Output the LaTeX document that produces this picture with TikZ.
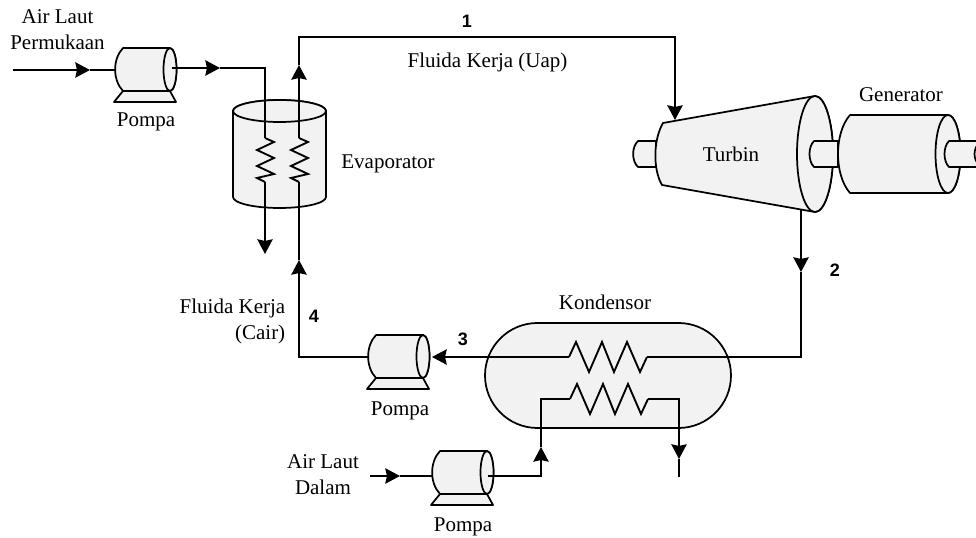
\documentclass[tikz,border=0pt]{standalone}
\usepackage{xcolor}
\usepackage{fontspec}
\setmainfont{Liberation Serif}
\newfontfamily\numfont{Liberation Sans}
\usetikzlibrary{arrows.meta, positioning}
\definecolor{unitfill}{HTML}{F2F2F2}

\tikzset{
    lbl/.style={font=\fontsize{15.75}{19.5}\selectfont, align=center, inner sep=0pt},
    num/.style={font=\numfont\bfseries\fontsize{13.5}{16}\selectfont, inner sep=0pt},
    unit/.style={draw, line width=1.3pt, fill=unitfill, line join=round},
    flow/.style={draw, line width=1.4pt, line join=miter},
    tip/.style={-{Stealth[length=11pt, width=11.5pt, inset=1.2pt]}},
    pics/pompa/.style={code={
        \path[unit] (8,43) -- (55,43) -- (61,54) -- (-1,54) -- cycle;
        \path[unit] (8,0) -- (55,0) arc[start angle=90, end angle=-90, x radius=6.5, y radius=-21.5] -- (8,43)
            .. controls (-2.5,32) and (-2.5,11) .. cycle;
        \draw[unit] (55,21.5) ellipse[x radius=6.5, y radius=21.5];
    }},
    pics/coilv/.style={code={
        \draw[line width=1.4pt] (0,0) -- (9,4) -- (-8,12) -- (9,20) -- (-8,28) -- (9,36) -- (-8,40) -- (0,44);
    }},
    pics/coilh/.style={code={
        \draw[line width=1.4pt] (0,0) -- (7,-15) -- (20,15) -- (33,-15) -- (45,15) -- (58,-15) -- (71,15) -- (78,0);
    }},
}

\begin{document}
\begin{tikzpicture}[x=0.75pt, y=-0.75pt]
    \useasboundingbox (0,0) rectangle (976,538);

    % connection points
    \coordinate (p1in)  at (115,70);
    \coordinate (p1out) at (172,68);
    \coordinate (p3out) at (368,357);
    \coordinate (p3tip) at (432,357);
    \coordinate (p4in)  at (432,476);
    \coordinate (p4out) at (488,476);
    \coordinate (seaA)  at (13,70);
    \coordinate (seaAt) at (90,70);
    \coordinate (seaB)  at (220,68);
    \coordinate (seaC)  at (265,68);
    \coordinate (seaD)  at (265,138);
    \coordinate (seaE)  at (265,182);
    \coordinate (seaF)  at (265,254);
    \coordinate (wfA)   at (299,357);
    \coordinate (wfB)   at (299,260);
    \coordinate (wfC)   at (299,182);
    \coordinate (wfD)   at (299,138);
    \coordinate (wfE)   at (299,65);
    \coordinate (wfF)   at (299,37);
    \coordinate (wfG)   at (675,37);
    \coordinate (wfH)   at (675,120);
    \coordinate (wfI)   at (801,209);
    \coordinate (wfJ)   at (801,272);
    \coordinate (wfK)   at (801,357);
    \coordinate (kuL)   at (569,357);
    \coordinate (kuR)   at (647,357);
    \coordinate (klL)   at (570,399);
    \coordinate (klR)   at (648,399);
    \coordinate (deepA) at (370,476);
    \coordinate (deepB) at (400,476);
    \coordinate (deepC) at (541,476);
    \coordinate (deepD) at (541,447);
    \coordinate (deepE) at (541,399);
    \coordinate (deepF) at (679,399);
    \coordinate (deepG) at (679,459);
    \coordinate (deepH) at (679,477);

    % evaporator
    \path[unit] (233,111) -- (233,197) arc[start angle=180, end angle=360, x radius=46.5, y radius=-11]
        -- (326,111) arc[start angle=0, end angle=180, x radius=46.5, y radius=-11];
    \draw[unit] (279.5,111) ellipse[x radius=46.5, y radius=11];

    % turbine and generator
    \path[unit] (656,141) -- (638,141) .. controls (631.5,147) and (631.5,161) .. (638,167) -- (656,167) -- cycle;
    \path[unit] (663,123) -- (815,96) arc[start angle=90, end angle=-90, x radius=18, y radius=-58]
        -- (662,185) .. controls (653,170) and (653,140) .. cycle;
    \draw[unit] (815,154) ellipse[x radius=18, y radius=58];
    \path[unit] (838,141) -- (814,141) .. controls (808,147) and (808,161) .. (814,167) -- (838,167) -- cycle;
    \path[unit] (850,115) -- (948,115) arc[start angle=90, end angle=-90, x radius=12.5, y radius=-39]
        -- (850,193) .. controls (834,175) and (834,133) .. cycle;
    \draw[unit] (948,154) ellipse[x radius=12.5, y radius=39];
    \path[unit] (985,141) -- (949,141) .. controls (943,147) and (943,161) .. (949,167) -- (985,167);
    \draw[line width=1.3pt] (979,143) .. controls (973,149) and (973,159) .. (979,165);

    % condenser
    \node[unit, rounded corners=52.5*0.75pt, minimum width=246*0.75pt, minimum height=105*0.75pt,
        inner sep=0pt] (kondensor) at (608,375.5) {};

    % pumps
    \pic (p1) at (115,48)  {pompa};
    \pic (p3) at (368,335) {pompa};
    \pic (p4) at (432,451) {pompa};

    % coils
    \pic at (seaD) {coilv};
    \pic at (wfD)  {coilv};
    \pic at (kuL)  {coilh};
    \pic at (klL)  {coilh};

    % surface seawater
    \draw[flow, tip] (seaA) -- (seaAt);
    \draw[flow] (seaAt) -- (p1in);
    \draw[flow, tip] (p1out) -- (seaB);
    \draw[flow] (seaB) -- (seaC) -- (seaD);
    \draw[flow, tip] (seaE) -- (seaF);

    % working fluid
    \draw[flow, tip] (p3out) -- (wfA) -- (wfB);
    \draw[flow] (wfB) -- (wfC);
    \draw[flow, tip] (wfD) -- (wfE);
    \draw[flow, tip] (wfE) -- (wfF) -- (wfG) -- (wfH);
    \draw[flow, tip] (wfI) -- (wfJ);
    \draw[flow] (wfJ) -- (wfK) -- (kuR);
    \draw[flow, tip] (kuL) -- (p3tip);

    % deep seawater
    \draw[flow, tip] (deepA) -- (deepB);
    \draw[flow] (deepB) -- (p4in);
    \draw[flow, tip] (p4out) -- (deepC) -- (deepD);
    \draw[flow] (deepD) -- (deepE) -- (klL);
    \draw[flow, tip] (klR) -- (deepF) -- (deepG);
    \draw[flow] (deepG) -- (deepH);

    % labels
    \node[lbl] (tAirA)   at (57.5,30)  {Air Laut\\Permukaan};
    \node[lbl] (tPompaA) at (146,122)  {Pompa};
    \node[lbl] (tEvap)   at (388,164)  {Evaporator};
    \node[lbl] (tUap)    at (487.5,62) {Fluida Kerja (Uap)};
    \node[lbl] (tTurbin) at (731,154)  {Turbin};
    \node[lbl] (tGen)    at (901,95)   {Generator};
    \node[lbl] (tKond)   at (605,302)  {Kondensor};
    \node[lbl] (tPompaB) at (400,411)  {Pompa};
    \node[lbl] (tPompaC) at (463,527)  {Pompa};
    \node[lbl] (tAirB)   at (323,475)  {Air Laut\\Dalam};
    \node[lbl, align=right, anchor=east] (tCair) at (285.5,321) {Fluida Kerja\\(Cair)};
    \node[num] (n1) at (467,21)  {1};
    \node[num] (n2) at (835,270) {2};
    \node[num] (n3) at (463,339) {3};
    \node[num] (n4) at (314,316) {4};
\end{tikzpicture}
\end{document}
